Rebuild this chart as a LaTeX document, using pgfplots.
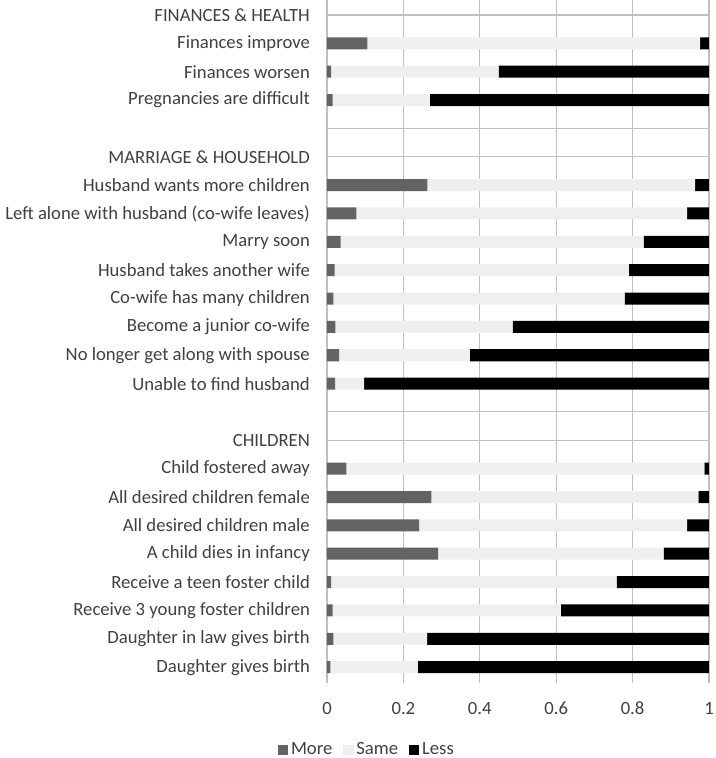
\documentclass[border=0pt]{standalone}
\usepackage{pgfplots}
\usepackage{pgfplotstable}
\pgfplotsset{compat=1.18}
\usepackage{fontspec}
\setmainfont{Carlito}
\definecolor{txt}{HTML}{404040}
\definecolor{grid}{HTML}{BFBFBF}
\definecolor{more}{HTML}{636363}
\definecolor{same}{HTML}{EFEFEF}
\definecolor{less}{HTML}{000000}
\pgfplotstableread{
y more same less
-1 0.106 0.871 0.023
-2 0.011 0.438 0.551
-3 0.015 0.254 0.731
-6 0.263 0.701 0.036
-7 0.077 0.866 0.057
-8 0.036 0.793 0.171
-9 0.020 0.770 0.210
-10 0.017 0.762 0.221
-11 0.022 0.464 0.514
-12 0.032 0.342 0.626
-13 0.021 0.076 0.903
-16 0.051 0.937 0.012
-17 0.273 0.699 0.028
-18 0.241 0.702 0.057
-19 0.291 0.590 0.119
-20 0.011 0.747 0.242
-21 0.015 0.597 0.388
-22 0.017 0.245 0.738
-23 0.009 0.229 0.762
}\data
\begin{document}
\fontsize{14pt}{17pt}\selectfont
\begin{tikzpicture}
\path[use as bounding box] (-245.25pt,-56.25pt) rectangle (291.75pt,512.25pt);
\begin{axis}[
  at={(0,0)}, anchor=south west,
  scale only axis,
  width=286.5pt, height=512.25pt,
  xbar stacked, bar width=9pt,
  xmin=0, xmax=1,
  ymin=-23.56, ymax=0.53,
  xtick={0,0.2,0.4,0.6,0.8,1},
  xticklabels={0,0.2,0.4,0.6,0.8,1},
  ytick={0,-1,-2,-3,-4,-5,-6,-7,-8,-9,-10,-11,-12,-13,-14,-15,-16,-17,-18,-19,-20,-21,-22,-23},
  yticklabels={{FINANCES \& HEALTH},{Finances improve},{Finances worsen},{Pregnancies are difficult},{},
    {MARRIAGE \& HOUSEHOLD},{Husband wants more children},{Left alone with husband (co-wife leaves)},{Marry soon},{Husband takes another wife},{Co-wife has many children},{Become a junior co-wife},{No longer get along with spouse},{Unable to find husband},{},
    {CHILDREN},{Child fostered away},{All desired children female},{All desired children male},{A child dies in infancy},{Receive a teen foster child},{Receive 3 young foster children},{Daughter in law gives birth},{Daughter gives birth}},
  axis line style={draw=none},
  major tick length=0pt,
  xmajorgrids, grid style={grid, line width=0.8pt},
  ticklabel style={text=txt, font=\fontsize{14pt}{17pt}\selectfont},
  /pgf/number format/assume math mode=true,
  yticklabel style={xshift=-8pt},
  xticklabel style={yshift=-9.5pt},
  legend style={at={(0.105,-0.098)}, anchor=center, draw=none, fill=none,
    legend columns=3, font=\fontsize{14pt}{17pt}\selectfont, text=txt,
    /tikz/every even column/.append style={column sep=6pt}},
  legend image code/.code={\fill[#1] (0pt,-4pt) rectangle (8pt,4pt);},
  legend cell align=left,
]
\addplot[fill=more, draw=none] table[x=more, y=y] {\data};
\addplot[fill=same, draw=none] table[x=same, y=y] {\data};
\addplot[fill=less, draw=none] table[x=less, y=y] {\data};
\legend{More, Same, Less}
\end{axis}
\end{tikzpicture}
\end{document}
